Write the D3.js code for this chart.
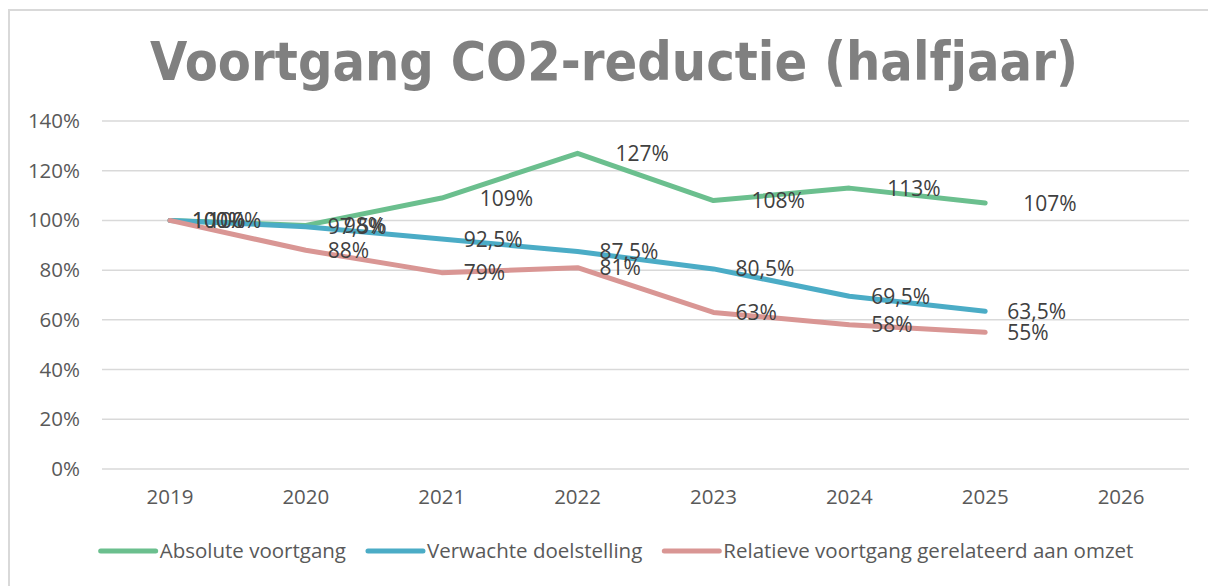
<!DOCTYPE html>
<html>
<head>
<meta charset="utf-8">
<script src="https://cdn.jsdelivr.net/npm/d3@7"></script>
<style>
  body { margin: 0; background: #fff; }
  svg { display: block; }
</style>
</head>
<body>
<svg id="chart" width="1208" height="586"></svg>
<script>
  // data
  var years = ['2019', '2020', '2021', '2022', '2023', '2024', '2025', '2026']
  var absoluteValues = [100, 98, 109, 127, 108, 113, 107]
  var expectedValues = [100, 97.5, 92.5, 87.5, 80.5, 69.5, 63.5]
  var relativeValues = [100, 88, 79, 81, 63, 58, 55]
  var yTicks = [0, 20, 40, 60, 80, 100, 120, 140]
  var seriesNames = ['Absolute voortgang', 'Verwachte doelstelling', 'Relatieve voortgang gerelateerd aan omzet']

  // constants
  var WIDTH = 1208, HEIGHT = 586
  var COLORS = ['#6bbf8e', '#4bacc6', '#d99694']
  var LABEL_DX = [38, 22, 22]
  var FONT = '"Open Sans", "Liberation Sans", sans-serif'

  var series = [absoluteValues, expectedValues, relativeValues].map(function (values, i) {
    return { name: seriesNames[i], values: values, color: COLORS[i], dx: LABEL_DX[i] }
  })

  function fmt (v) {
    return String(v).replace('.', ',') + '%'
  }

  var svg = d3.select('#chart')

  // chart border
  svg.append('path')
    .attr('d', 'M9,' + HEIGHT + 'V10H' + WIDTH)
    .attr('fill', 'none')
    .attr('stroke', '#d9d9d9')
    .attr('stroke-width', 2)

  // title
  svg.append('text')
    .attr('x', 614)
    .attr('y', 80)
    .attr('text-anchor', 'middle')
    .attr('font-family', '"DejaVu Sans", Verdana, sans-serif')
    .attr('font-weight', 'bold')
    .attr('font-size', 54)
    .attr('fill', '#808080')
    .attr('textLength', 928)
    .attr('lengthAdjust', 'spacingAndGlyphs')
    .text('Voortgang CO2-reductie (halfjaar)')

  var x = d3.scaleBand().domain(years).range([102, 1189])
  var y = d3.scaleLinear().domain([0, 140]).range([469, 121])

  // gridlines
  svg.append('g')
    .selectAll('line')
    .data(yTicks)
    .join('line')
    .attr('x1', 102)
    .attr('x2', 1189)
    .attr('y1', function (d) { return y(d) })
    .attr('y2', function (d) { return y(d) })
    .attr('stroke', '#d9d9d9')
    .attr('stroke-width', 1.5)

  // y axis labels
  var yAxis = svg.append('g')
    .attr('transform', 'translate(80,0)')
    .call(d3.axisLeft(y).tickValues(yTicks).tickSize(0).tickPadding(0).tickFormat(function (d) { return d + '%' }))
  yAxis.select('.domain').remove()
  yAxis.selectAll('text')
    .attr('font-family', FONT)
    .attr('font-size', 20.5)
    .attr('fill', '#595959')

  // x axis labels
  var xAxis = svg.append('g')
    .attr('transform', 'translate(0,469)')
    .call(d3.axisBottom(x).tickSize(0).tickPadding(20))
  xAxis.select('.domain').remove()
  xAxis.selectAll('text')
    .attr('font-family', FONT)
    .attr('font-size', 20.5)
    .attr('fill', '#595959')

  var cx = function (d, i) { return x(years[i]) + x.bandwidth() / 2 }
  var line = d3.line()
    .x(cx)
    .y(function (d) { return y(d) })

  // lines
  svg.append('g')
    .selectAll('path')
    .data(series)
    .join('path')
    .attr('d', function (s) { return line(s.values) })
    .attr('fill', 'none')
    .attr('stroke', function (s) { return s.color })
    .attr('stroke-width', 5)
    .attr('stroke-linejoin', 'round')
    .attr('stroke-linecap', 'round')

  // data labels
  series.forEach(function (s) {
    svg.append('g')
      .selectAll('text')
      .data(s.values)
      .join('text')
      .attr('x', function (d, i) { return cx(d, i) + s.dx })
      .attr('y', function (d) { return y(d) })
      .attr('dy', '0.36em')
      .attr('font-family', FONT)
      .attr('font-size', 21)
      .attr('fill', '#404040')
      .text(fmt)
  })

  // legend
  var legend = svg.append('g').attr('transform', 'translate(0,551)')
  var items = legend.selectAll('g')
    .data(series)
    .join('g')
  items.append('line')
    .attr('x1', 0).attr('x2', 55)
    .attr('stroke', function (s) { return s.color })
    .attr('stroke-width', 5)
    .attr('stroke-linecap', 'round')
  items.append('text')
    .attr('x', 59)
    .attr('dy', '0.35em')
    .attr('font-family', FONT)
    .attr('font-size', 20.5)
    .attr('fill', '#595959')
    .text(function (s) { return s.name })

  var offset = 0, positions = []
  items.each(function () {
    positions.push(offset)
    offset += 59 + this.querySelector('text').getComputedTextLength() + 22
  })
  var total = offset - 22
  var start = 617 - total / 2
  items.attr('transform', function (s, i) { return 'translate(' + (start + positions[i]) + ',0)' })
</script>
</body>
</html>
